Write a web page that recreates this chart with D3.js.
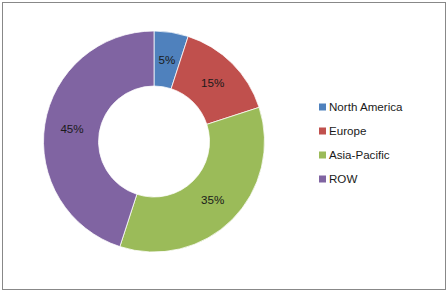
<!DOCTYPE html>
<meta charset="utf-8">
<html>
<head>
<style>
body { margin: 0; background: #fff; }
.legend text, .label { font-family: "Liberation Sans", Arial, sans-serif; font-size: 11.6px; fill: #1a1a1a; }
</style>
</head>
<body>
<svg id="chart" width="448" height="292"></svg>
<script src="https://d3js.org/d3.v7.min.js"></script>
<script>
// data
var regions = ["North America", "Europe", "Asia-Pacific", "ROW"];
var shares = [5, 15, 35, 45];
var colors = ["#4F81BD", "#C0504D", "#9BBB59", "#8064A2"];

var svg = d3.select("#chart");

// chart frame
svg.append("rect")
  .attr("x", 2.5).attr("y", 2.5)
  .attr("width", 443).attr("height", 287)
  .attr("fill", "#fff")
  .attr("stroke", "#888")
  .attr("stroke-width", 1);

var cx = 154, cy = 141.5, outerR = 110.5, innerR = 55.5;

var pie = d3.pie().sort(null).value(function(d) { return d; });
var arc = d3.arc().innerRadius(innerR).outerRadius(outerR);
var labelArc = d3.arc().innerRadius((innerR + outerR) / 2).outerRadius((innerR + outerR) / 2);

var g = svg.append("g").attr("transform", "translate(" + cx + "," + cy + ")");

var arcs = pie(shares);

g.selectAll("path")
  .data(arcs)
  .enter().append("path")
    .attr("d", arc)
    .attr("fill", function(d, i) { return colors[i]; })
    .attr("stroke", "#fff")
    .attr("stroke-width", 0.75);

g.selectAll("text")
  .data(arcs)
  .enter().append("text")
    .attr("class", "label")
    .attr("transform", function(d) { return "translate(" + labelArc.centroid(d) + ")"; })
    .attr("text-anchor", "middle")
    .attr("dy", "0.35em")
    .text(function(d) { return d.data + "%"; });

// legend
var legend = svg.append("g").attr("class", "legend");
var y = d3.scalePoint().domain(regions).range([107, 179]);

legend.selectAll("rect")
  .data(regions)
  .enter().append("rect")
    .attr("x", 319)
    .attr("y", function(d) { return y(d) - 3.5; })
    .attr("width", 7).attr("height", 7)
    .attr("fill", function(d, i) { return colors[i]; });

legend.selectAll("text")
  .data(regions)
  .enter().append("text")
    .attr("x", 329)
    .attr("y", function(d) { return y(d); })
    .attr("dy", "0.35em")
    .text(function(d) { return d; });
</script>
</body>
</html>
